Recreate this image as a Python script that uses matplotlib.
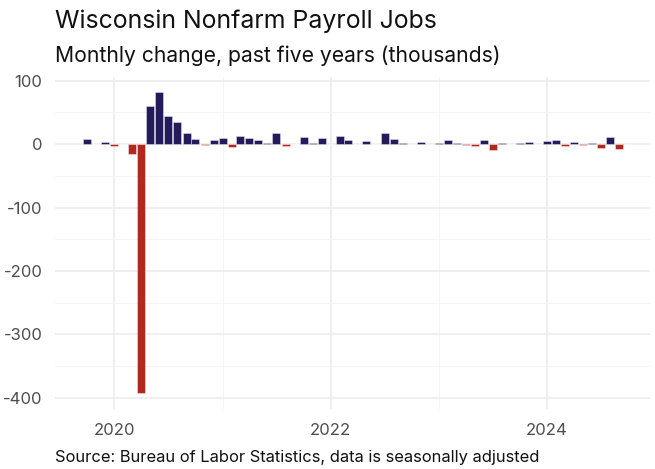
import matplotlib
matplotlib.use("Agg")
import matplotlib.pyplot as plt
import numpy as np
import pandas as pd

plt.rcParams['font.family'] = ['Inter', 'DejaVu Sans']
plt.rcParams['axes.unicode_minus'] = False

# monthly change in nonfarm payroll jobs, thousands (Oct 2019 - Oct 2024)
months = pd.date_range('2019-10-01', periods=61, freq='MS')
change = [
    8.4, 0, 3.7,
    -3, 0, -15.3, -392, 60, 82, 44, 35, 18, 8.4, -1, 5.8,
    10, -4, 13.5, 9.8, 6.8, 2.1, 17.4, -2.5, 0, 12, 2, 9.5,
    1, 13, 6.8, 0.6, 4.4, 0.6, 18, 8.4, 2, 0, 3.7, 0,
    2, 5.8, 2, -1.2, -2.8, 6.8, -9, 2, 0.8, 2, 3.7, 0.8,
    4.7, 6.8, -2.8, 3.7, -1.2, 2, -6.5, 12, -7.9, 1,
]
year_ticks = ['2020', '2022', '2024']
y_ticks = [-400, -300, -200, -100, 0, 100]

navy = '#231b5c'
red = '#b0291e'
colors = [navy if v >= 0 else red for v in change]

fig = plt.figure(figsize=(6.55, 4.69), dpi=100)
ax = fig.add_axes([55 / 655, 1 - 409 / 469, 595 / 655, 332 / 469])

ax.bar(months, change, width=27, color=colors,
       edgecolor=(1, 1, 1, 0.45), linewidth=0.6, zorder=3)

start = pd.Timestamp('2020-01-01')
ax.set_xlim(start - pd.Timedelta(days=200), start + pd.Timedelta(days=1808))
ax.set_ylim(-418, 106)

ax.set_xticks([pd.Timestamp(y + '-01-01') for y in year_ticks])
ax.set_xticklabels(year_ticks)
ax.set_xticks([pd.Timestamp('2021-01-01'), pd.Timestamp('2023-01-01')], minor=True)
ax.set_yticks(y_ticks)
ax.set_yticklabels([str(v) for v in y_ticks])
ax.set_yticks(np.arange(-350, 100, 100), minor=True)

ax.grid(True, which='major', color='#ebebeb', linewidth=1.1, zorder=0)
ax.grid(True, which='minor', color='#f2f2f2', linewidth=0.6, zorder=0)
ax.set_axisbelow(True)
for s in ax.spines.values():
    s.set_visible(False)
ax.tick_params(which='both', length=0, labelsize=12, labelcolor='#4d4d4d')
ax.tick_params(axis='x', pad=10)
ax.tick_params(axis='y', pad=9)

fig.text(55 / 655, 1 - 28 / 469, 'Wisconsin Nonfarm Payroll Jobs',
         fontsize=17.9, color='#111111', ha='left', va='baseline')
fig.text(55 / 655, 1 - 62 / 469, 'Monthly change, past five years (thousands)',
         fontsize=15.2, color='#111111', ha='left', va='baseline')
fig.text(55 / 655, 1 - 462 / 469, 'Source: Bureau of Labor Statistics, data is seasonally adjusted',
         fontsize=11.9, color='#111111', ha='left', va='baseline')

fig.savefig('out.png', dpi=100, facecolor='white')
